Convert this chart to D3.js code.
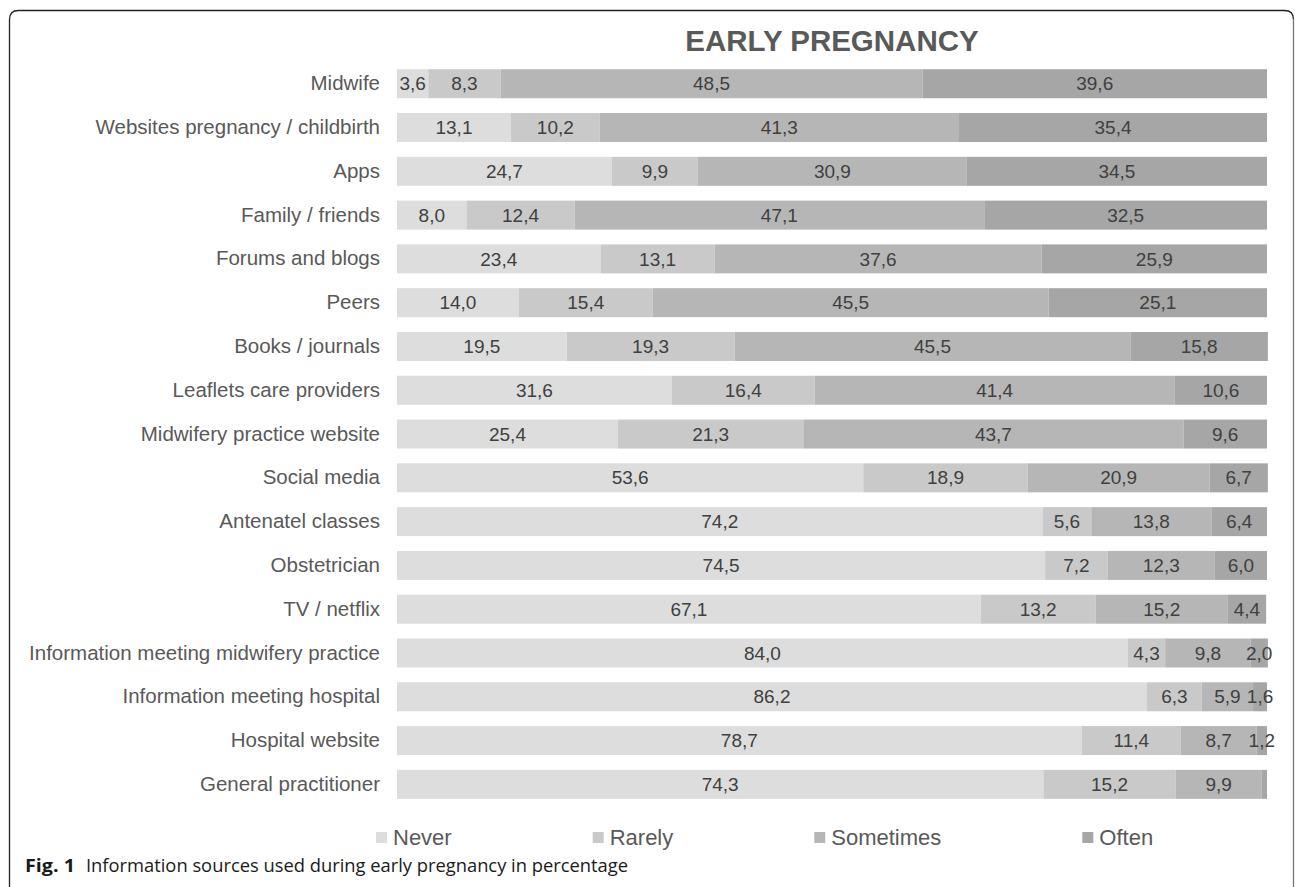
<!DOCTYPE html>
<html>
<head>
<meta charset="utf-8">
<script src="https://cdn.jsdelivr.net/npm/d3@7"></script>
<style>
  html, body { margin: 0; padding: 0; background: #fff; }
  svg { display: block; }
</style>
</head>
<body>
<svg id="chart" width="1295" height="887"></svg>
<script>
// Information sources, top to bottom
const categories = [
  "Midwife",
  "Websites pregnancy / childbirth",
  "Apps",
  "Family / friends",
  "Forums and blogs",
  "Peers",
  "Books / journals",
  "Leaflets care providers",
  "Midwifery practice website",
  "Social media",
  "Antenatel classes",
  "Obstetrician",
  "TV / netflix",
  "Information meeting midwifery practice",
  "Information meeting hospital",
  "Hospital website",
  "General practitioner"
];

const seriesNames = ["Never", "Rarely", "Sometimes", "Often"];

// Percentages per frequency, same order as categories
const never     = [3.6, 13.1, 24.7, 8.0, 23.4, 14.0, 19.5, 31.6, 25.4, 53.6, 74.2, 74.5, 67.1, 84.0, 86.2, 78.7, 74.3];
const rarely    = [8.3, 10.2, 9.9, 12.4, 13.1, 15.4, 19.3, 16.4, 21.3, 18.9, 5.6, 7.2, 13.2, 4.3, 6.3, 11.4, 15.2];
const sometimes = [48.5, 41.3, 30.9, 47.1, 37.6, 45.5, 45.5, 41.4, 43.7, 20.9, 13.8, 12.3, 15.2, 9.8, 5.9, 8.7, 9.9];
const often     = [39.6, 35.4, 34.5, 32.5, 25.9, 25.1, 15.8, 10.6, 9.6, 6.7, 6.4, 6.0, 4.4, 2.0, 1.6, 1.2, 0.6];

const colors = ["#dddddd", "#c9c9c9", "#b6b6b6", "#a6a6a6"];

const rows = categories.map((c, i) => ({
  cat: c,
  Never: never[i], Rarely: rarely[i], Sometimes: sometimes[i], Often: often[i]
}));

const svg = d3.select("#chart");
const FONT = "'Liberation Sans', Arial, sans-serif";
const CAPFONT = "'Open Sans', 'Noto Sans', sans-serif";

// frame: open-bottom rounded box
const fx0 = 9.5, fy0 = 10.5, fx1 = 1293.5, fyb = 887, r = 9;
svg.append("path")
  .attr("d", `M${fx0},${fyb} L${fx0},${fy0 + r} Q${fx0},${fy0} ${fx0 + r},${fy0} L${fx1 - r},${fy0} Q${fx1},${fy0} ${fx1},${fy0 + r}`)
  .attr("fill", "none").attr("stroke", "#222").attr("stroke-width", 1.3);
svg.append("line")
  .attr("x1", fx1).attr("x2", fx1).attr("y1", fy0 + r).attr("y2", fyb)
  .attr("stroke", "#777").attr("stroke-width", 1.3);

const x = d3.scaleLinear().domain([0, 100]).range([397, 1267]);
const y = d3.scaleBand().domain(categories).range([61.8, 806.3])
  .paddingInner(0.338).paddingOuter(0.17);

const stack = d3.stack().keys(seriesNames)(rows);

// title
svg.append("text")
  .attr("x", (x(0) + x(100)) / 2).attr("y", 51)
  .attr("text-anchor", "middle")
  .attr("font-family", FONT).attr("font-weight", "bold").attr("font-size", 29.5)
  .attr("fill", "#595959")
  .text("EARLY PREGNANCY");

// category axis (labels only)
const yAxis = d3.axisLeft(y).tickSize(0).tickPadding(0);
const gy = svg.append("g").attr("transform", `translate(${x(0) - 17},0)`).call(yAxis);
gy.select(".domain").remove();
gy.selectAll("text")
  .attr("font-family", FONT).attr("font-size", 20.5).attr("fill", "#595959");

// stacked bars
const layers = svg.append("g").selectAll("g").data(stack).join("g")
  .attr("fill", (d, i) => colors[i]);
layers.selectAll("rect").data(d => d).join("rect")
  .attr("x", d => x(d[0]))
  .attr("y", d => y(d.data.cat))
  .attr("width", d => x(d[1]) - x(d[0]))
  .attr("height", y.bandwidth());

// value labels
const fmt = v => v.toFixed(1).replace(".", ",");
const lab = svg.append("g");
stack.forEach(layer => {
  layer.forEach(d => {
    const v = d[1] - d[0];
    if (v < 1) return;
    lab.append("text")
      .attr("x", (x(d[0]) + x(d[1])) / 2)
      .attr("y", y(d.data.cat) + y.bandwidth() / 2)
      .attr("dy", "0.35em")
      .attr("text-anchor", "middle")
      .attr("font-family", FONT).attr("font-size", 19)
      .attr("fill", "#404040")
      .text(fmt(+v.toFixed(1)));
  });
});

// legend
const leg = svg.append("g");
let lx = 376;
seriesNames.forEach((name, i) => {
  leg.append("rect").attr("x", lx).attr("y", 832).attr("width", 11).attr("height", 11)
    .attr("fill", colors[i]);
  const t = leg.append("text").attr("x", lx + 17).attr("y", 845)
    .attr("font-family", FONT).attr("font-size", 22).attr("fill", "#595959")
    .text(name);
  lx += 17 + t.node().getComputedTextLength() + 141;
});

// figure caption
svg.append("text").attr("x", 25).attr("y", 872)
  .attr("font-family", CAPFONT).attr("font-size", 18).attr("font-weight", "bold").attr("fill", "#1a1a1a")
  .attr("textLength", 50).attr("lengthAdjust", "spacingAndGlyphs")
  .text("Fig. 1");
svg.append("text").attr("x", 86).attr("y", 872)
  .attr("font-family", CAPFONT).attr("font-size", 18).attr("fill", "#1a1a1a")
  .attr("textLength", 542).attr("lengthAdjust", "spacingAndGlyphs")
  .text("Information sources used during early pregnancy in percentage");
</script>
</body>
</html>
